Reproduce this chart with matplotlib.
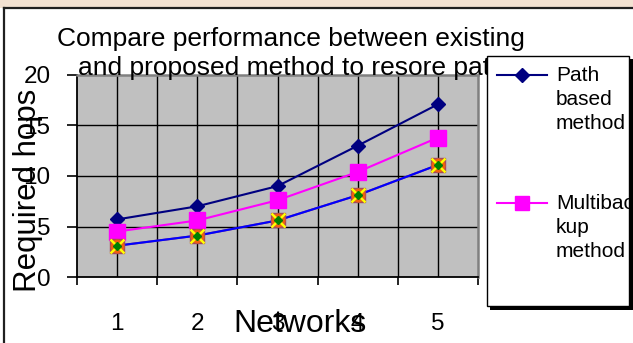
import matplotlib
matplotlib.use("Agg")
import matplotlib.pyplot as plt
from matplotlib.patches import Rectangle
from matplotlib.lines import Line2D

plt.rcParams['font.family'] = ['Liberation Sans', 'DejaVu Sans']

networks = [1, 2, 3, 4, 5]
x_labels = ["1", "2", "3", "4", "5"]
path_based = [5.7, 7.0, 9.0, 13.0, 17.1]
multibackup = [4.5, 5.6, 7.6, 10.4, 13.8]
third_series = [3.1, 4.1, 5.6, 8.1, 11.1]
y_ticks = [0, 5, 10, 15, 20]
title_lines = ["Compare performance between existing",
               "and proposed method to resore path"]
legend_entries = [["Path", "based", "method"], ["Multibac", "kup", "method"]]

W, H = 633, 343
fig = plt.figure(figsize=(W / 100, H / 100), dpi=100)
fig.patch.set_facecolor('white')

def fx(px):
    return px / W

def fy(py):
    return 1 - py / H

# top watermark strip and outer border
fig.add_artist(Rectangle((0, fy(8)), 1, 8 / H, transform=fig.transFigure,
                         facecolor='#f3e2d2', edgecolor='none', zorder=0))
fig.add_artist(Line2D([fx(4), fx(4)], [fy(8), 0], transform=fig.transFigure,
                      color='#202020', lw=1.6, zorder=1))
fig.add_artist(Line2D([fx(4), 1], [fy(8), fy(8)], transform=fig.transFigure,
                      color='#202020', lw=1.6, zorder=1))

# plot area
L, R, T, B = 77, 478, 75, 277
ax = fig.add_axes([fx(L), fy(B), (R - L) / W, (B - T) / H])
ax.set_facecolor('#c0c0c0')
ax.set_xlim(0.5, 5.5)
ax.set_ylim(0, 20)

for v in [1, 1.5, 2, 2.5, 3, 3.5, 4, 4.5, 5]:
    ax.axvline(v, color='black', lw=1.0, zorder=1)
for v in [5, 10, 15]:
    ax.axhline(v, color='black', lw=1.0, zorder=1)

ax.plot(networks, path_based, color='#000080', lw=1.5, marker='D', ms=7,
        mfc='#000080', mec='#000080', zorder=3)
ax.plot(networks, multibackup, color='#ff00ff', lw=1.5, marker='s', ms=11,
        mfc='#ff00ff', mec='#ff00ff', zorder=3)
ax.plot(networks, third_series, color='#993366', lw=1.5, zorder=3)
ax.plot(networks, third_series, color='#0000ff', lw=1.5, zorder=3)
ax.plot(networks, third_series, ls='none', marker='s', ms=10, mfc='#a04a60',
        mec='#a04a60', zorder=4)
ax.plot(networks, third_series, ls='none', marker='o', ms=9, mfc='#f06010',
        mec='#f06010', zorder=4)
ax.plot(networks, third_series, ls='none', marker='x', ms=10, mew=1.8,
        mec='#ffff00', zorder=5)
ax.plot(networks, third_series, ls='none', marker='D', ms=4.5, mfc='#008000',
        mec='#008000', zorder=6)

ax.set_xticks(networks)
ax.set_xticklabels(x_labels, fontsize=17.5)
ax.set_xticks([0.5, 1.5, 2.5, 3.5, 4.5, 5.5], minor=True)
ax.tick_params(axis='x', which='major', length=0, pad=26)
ax.tick_params(axis='x', which='minor', length=6, width=1.2, direction='out')
ax.set_yticks(y_ticks)
ax.set_yticklabels([str(v) for v in y_ticks], fontsize=17.5)
ax.tick_params(axis='y', length=7, width=1.2, direction='out', pad=12)

ax.spines['left'].set_color('black')
ax.spines['bottom'].set_color('black')
ax.spines['left'].set_linewidth(1.3)
ax.spines['bottom'].set_linewidth(1.3)
ax.spines['top'].set_color('#808080')
ax.spines['right'].set_color('#808080')
ax.spines['top'].set_linewidth(1.8)
ax.spines['right'].set_linewidth(1.8)

# axis titles
fig.text(fx(300), fy(332), "Networks", fontsize=23, ha='center', va='baseline')
fig.text(fx(28), fy(190), "Required hops", fontsize=22.5, rotation=90,
         ha='center', va='center')

# chart title
fig.text(fx(291), fy(46), title_lines[0], fontsize=19, ha='center',
         va='baseline', zorder=3)
fig.text(fx(291), fy(75), title_lines[1], fontsize=19, ha='center',
         va='baseline', zorder=3)

# legend box
LL, LR, LT, LB = 487, 631, 56, 308
lax = fig.add_axes([fx(LL), fy(LB), (LR - LL) / W, (LB - LT) / H], zorder=10)
lax.set_xlim(LL, LR)
lax.set_ylim(LB, LT)
lax.axis('off')
lax.set_facecolor('white')
shadow = Rectangle((LL + 3, LT + 3), LR - LL - 1, LB - LT - 1, facecolor='black',
                   edgecolor='none', clip_on=False, zorder=0)
box = Rectangle((LL, LT), LR - LL - 2, LB - LT - 2, facecolor='white',
                edgecolor='black', lw=1.0, clip_on=False, zorder=1)
lax.add_patch(shadow)
lax.add_patch(box)

styles = [dict(color='#000080', marker='D', ms=7),
          dict(color='#ff00ff', marker='s', ms=10)]
entry_y = [75, 203]
for lines, st, y0 in zip(legend_entries, styles, entry_y):
    lax.plot([497, 547], [y0, y0], color=st['color'], lw=1.5, zorder=2,
             clip_on=False)
    lax.plot([522], [y0], ls='none', marker=st['marker'], ms=st['ms'],
             mfc=st['color'], mec=st['color'], zorder=3, clip_on=False)
    for i, s in enumerate(lines):
        t = lax.text(556, y0 + i * 24, s, fontsize=15, ha='left',
                     va='center', zorder=4)
        t.set_clip_path(box)

fig.savefig("out.png", dpi=100)
